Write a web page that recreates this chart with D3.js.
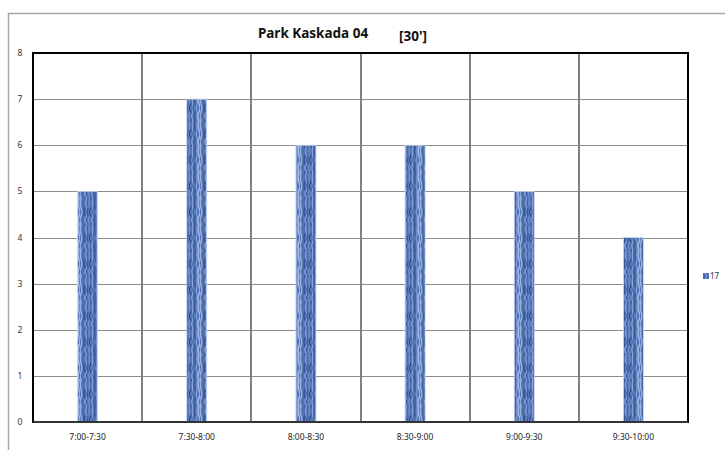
<!DOCTYPE html>
<html>
<head>
<meta charset="utf-8">
<script src="https://cdn.jsdelivr.net/npm/d3@7"></script>
<style>
  body { margin: 0; background: #fff; }
  svg { display: block; font-family: 'Liberation Sans Narrow', 'Noto Sans', sans-serif; }
</style>
</head>
<body>
<div id="chart"></div>
<script>
// Data
const categories = ['7:00-7:30', '7:30-8:00', '8:00-8:30', '8:30-9:00', '9:00-9:30', '9:30-10:00'];
const values = [5, 7, 6, 6, 5, 4];
const yTicks = [0, 1, 2, 3, 4, 5, 6, 7, 8];
const seriesName = '17';

const W = 725, H = 450;
const plot = { left: 33, right: 688, top: 53, bottom: 422 };

const svg = d3.select('#chart').append('svg')
  .attr('width', W)
  .attr('height', H);

// Bar texture: mottled vertical streaks of blue
const defs = svg.append('defs');
const pat = defs.append('pattern')
  .attr('id', 'tex')
  .attr('patternUnits', 'userSpaceOnUse')
  .attr('width', 20)
  .attr('height', 26);
pat.append('rect').attr('width', 20).attr('height', 26).attr('fill', '#5677b6');
const streaks = [
  [1, '#9ab3e2', 2], [3, '#4a6cad', 1], [5, '#2f5193', -2], [6.5, '#7e9dd6', 3],
  [8, '#3b5e9f', -1], [9.5, '#6f8fcc', 2], [11, '#2c4e90', -3], [12.5, '#86a4da', 1],
  [14, '#4466a8', -2], [15.5, '#3a5c9e', 3], [17, '#7898d2', -1], [19, '#a2bae6', 2]
];
streaks.forEach(([sx, c, k]) => {
  pat.append('path')
    .attr('d', `M${sx},0 Q${sx + k},4 ${sx},8 T${sx},16 Q${sx - k * 0.6},21 ${sx},26`)
    .attr('stroke', c)
    .attr('stroke-width', 1.4)
    .attr('fill', 'none');
});

// Outer chart border
svg.append('path')
  .attr('d', `M${W + 2},13.5 H8.5 V${H + 2}`)
  .attr('fill', 'none')
  .attr('stroke', '#a6a6a6')
  .attr('stroke-width', 1.5);

// Scales
const x = d3.scaleBand().domain(categories).range([plot.left, plot.right]);
const y = d3.scaleLinear().domain([0, 8]).range([plot.bottom, plot.top]);

// Horizontal gridlines
svg.append('g')
  .selectAll('line')
  .data(yTicks.filter((d) => d > 0 && d < 8))
  .enter()
  .append('line')
  .attr('x1', plot.left)
  .attr('x2', plot.right)
  .attr('y1', (d) => Math.round(y(d)) + 0.5)
  .attr('y2', (d) => Math.round(y(d)) + 0.5)
  .attr('stroke', '#8c8c8c')
  .attr('stroke-width', 1);

// Vertical gridlines at category boundaries
svg.append('g')
  .selectAll('line')
  .data(categories.slice(1))
  .enter()
  .append('line')
  .attr('x1', (d) => Math.round(x(d)))
  .attr('x2', (d) => Math.round(x(d)))
  .attr('y1', plot.top)
  .attr('y2', plot.bottom)
  .attr('stroke', '#808080')
  .attr('stroke-width', 2);

// Bars
const barW = 20;
svg.append('g')
  .selectAll('rect')
  .data(values)
  .enter()
  .append('rect')
  .attr('x', (d, i) => x(categories[i]) + x.bandwidth() / 2 - barW / 2)
  .attr('y', (d) => y(d))
  .attr('width', barW)
  .attr('height', (d) => y(0) - y(d))
  .attr('fill', 'url(#tex)')
  .attr('stroke', '#c9d6ee')
  .attr('stroke-width', 0.8);

// Plot frame
svg.append('rect')
  .attr('x', plot.left)
  .attr('y', plot.top)
  .attr('width', plot.right - plot.left)
  .attr('height', plot.bottom - plot.top)
  .attr('fill', 'none')
  .attr('stroke', '#000')
  .attr('stroke-width', 2);
svg.append('line')
  .attr('x1', plot.left)
  .attr('x2', plot.right)
  .attr('y1', plot.bottom)
  .attr('y2', plot.bottom)
  .attr('stroke', '#333')
  .attr('stroke-width', 2);

// Y tick labels
svg.append('g')
  .selectAll('text')
  .data(yTicks)
  .enter()
  .append('text')
  .attr('x', 20)
  .attr('y', (d) => y(d) + 3)
  .attr('text-anchor', 'middle')
  .attr('font-size', '8.5px')
  .attr('fill', '#333')
  .text((d) => d);

// X labels
svg.append('g')
  .selectAll('text')
  .data(categories)
  .enter()
  .append('text')
  .attr('x', (d) => x(d) + x.bandwidth() / 2)
  .attr('y', 440)
  .attr('text-anchor', 'middle')
  .attr('font-size', '8.5px')
  .attr('fill', '#222')
  .text((d) => d);

// Title
svg.append('text')
  .attr('x', 313)
  .attr('y', 38)
  .attr('text-anchor', 'middle')
  .attr('font-size', '13.5px')
  .attr('font-weight', 'bold')
  .attr('fill', '#111')
  .text('Park Kaskada 04');
svg.append('text')
  .attr('x', 399)
  .attr('y', 41)
  .attr('font-size', '13.5px')
  .attr('font-weight', 'bold')
  .attr('fill', '#111')
  .text("[30']");

// Legend
svg.append('rect')
  .attr('x', 703)
  .attr('y', 273)
  .attr('width', 6)
  .attr('height', 6)
  .attr('fill', 'url(#tex)');
svg.append('text')
  .attr('x', 710)
  .attr('y', 279)
  .attr('font-size', '8px')
  .attr('fill', '#333')
  .text(seriesName);
</script>
</body>
</html>
